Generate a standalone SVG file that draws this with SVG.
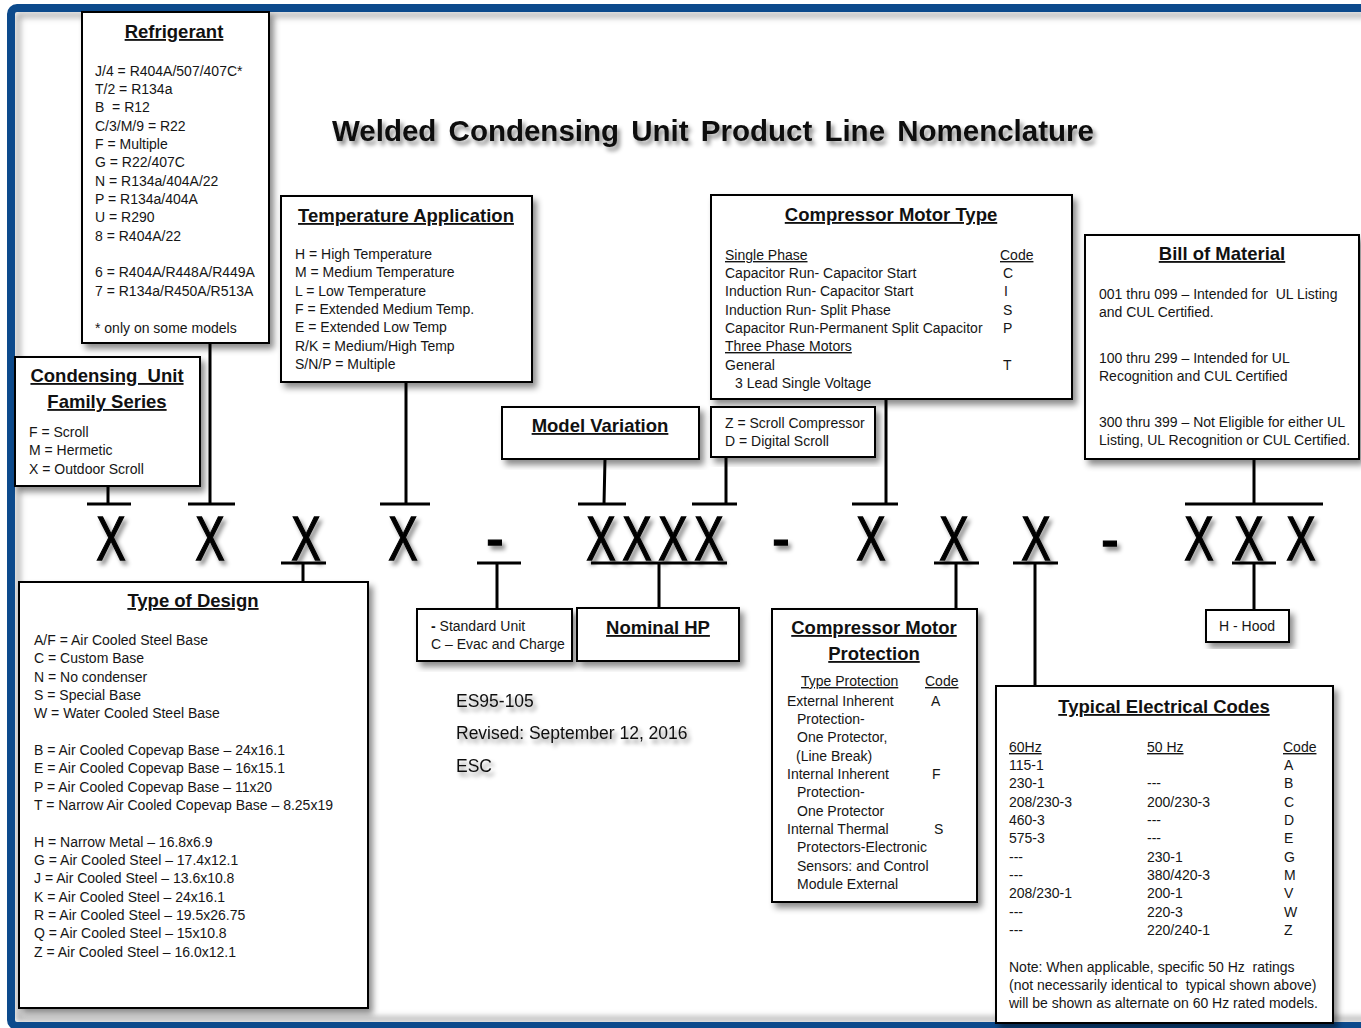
<svg xmlns="http://www.w3.org/2000/svg" width="1361" height="1028" viewBox="0 0 1361 1028">
<defs>
<filter id="sh" x="-10%" y="-10%" width="130%" height="130%">
<feDropShadow dx="4" dy="5" stdDeviation="3" flood-color="#000" flood-opacity="0.45"/>
</filter>
<filter id="tsh" x="-30%" y="-30%" width="170%" height="170%">
<feDropShadow dx="3" dy="4" stdDeviation="2.2" flood-color="#000" flood-opacity="0.45"/>
</filter>
<filter id="blur" x="-5%" y="-5%" width="110%" height="110%">
<feGaussianBlur stdDeviation="3"/>
</filter>
<style>
.box{fill:#fff;stroke:#000;stroke-width:2}
.t{font-family:"Liberation Sans",Arial,sans-serif;font-size:14px;fill:#151515;white-space:pre}
.h{font-family:"Liberation Sans",Arial,sans-serif;font-size:18.5px;font-weight:bold;text-decoration:underline;text-anchor:middle;fill:#111;white-space:pre}
.u{text-decoration:underline}
.big{font-family:"Liberation Sans",Arial,sans-serif;font-size:63px;text-anchor:middle;fill:#000;stroke:#000;stroke-width:1.3}
.c{stroke:#000;stroke-width:3;fill:none}
.es{font-family:"Liberation Sans",Arial,sans-serif;font-size:17.5px;fill:#111}
</style>
</defs>
<rect x="0" y="0" width="1361" height="1028" fill="#fff"/>
<rect x="18" y="15" width="1400" height="1004" fill="none" stroke="#9a9a9a" stroke-width="4" filter="url(#blur)"/>
<rect x="11" y="8" width="1400" height="1018" rx="6" fill="none" stroke="#0c4a8c" stroke-width="8"/>

<text class="h" x="713" y="141" style="font-size:29.5px;text-decoration:none;word-spacing:4px" filter="url(#tsh)">Welded Condensing Unit Product Line Nomenclature</text>

<g id="connectors">
<path class="c" d="M108 486V504M87 504H131"/>
<path class="c" d="M210 343V504M188 504H235"/>
<path class="c" d="M406 382V504M380 504H430"/>
<path class="c" d="M605 459L604 504M578 504H626"/>
<path class="c" d="M726 457V504M692 504H737"/>
<path class="c" d="M886 399V504M852 504H898"/>
<path class="c" d="M1254 459V504M1185 504H1323"/>
<path class="c" d="M303 582V563M281 563H326"/>
<path class="c" d="M497 609V563M477 563H521"/>
<path class="c" d="M659 608V563M591 563H727"/>
<path class="c" d="M956 609V563M934 563H979"/>
<path class="c" d="M1035 686V563M1013 563H1058"/>
<path class="c" d="M1254 610V563M1232 563H1276"/>
</g>

<g id="code" filter="url(#tsh)">
<text class="big" transform="translate(111,560) scale(0.7,1)">X</text>
<text class="big" transform="translate(210,560) scale(0.7,1)">X</text>
<text class="big" transform="translate(306,560) scale(0.7,1)">X</text>
<text class="big" transform="translate(403,560) scale(0.7,1)">X</text>
<text class="big" transform="translate(495,559) scale(0.85,1)">-</text>
<text class="big" transform="translate(601,560) scale(0.7,1)">X</text>
<text class="big" transform="translate(637,560) scale(0.7,1)">X</text>
<text class="big" transform="translate(673,560) scale(0.7,1)">X</text>
<text class="big" transform="translate(709,560) scale(0.7,1)">X</text>
<text class="big" transform="translate(781,559) scale(0.85,1)">-</text>
<text class="big" transform="translate(871,560) scale(0.7,1)">X</text>
<text class="big" transform="translate(954,560) scale(0.7,1)">X</text>
<text class="big" transform="translate(1036,560) scale(0.7,1)">X</text>
<text class="big" transform="translate(1110,560) scale(0.85,1)">-</text>
<text class="big" transform="translate(1199,560) scale(0.7,1)">X</text>
<text class="big" transform="translate(1249,560) scale(0.7,1)">X</text>
<text class="big" transform="translate(1301,560) scale(0.7,1)">X</text>
</g>

<g id="refrigerant">
<rect class="box" x="82" y="12" width="187" height="331" filter="url(#sh)"/>
<text class="h" x="174" y="38">Refrigerant</text>
<text class="t" x="95" y="76">J/4 = R404A/507/407C*</text>
<text class="t" x="95" y="94">T/2 = R134a</text>
<text class="t" x="95" y="112">B  = R12</text>
<text class="t" x="95" y="131">C/3/M/9 = R22</text>
<text class="t" x="95" y="149">F = Multiple</text>
<text class="t" x="95" y="167">G = R22/407C</text>
<text class="t" x="95" y="186">N = R134a/404A/22</text>
<text class="t" x="95" y="204">P = R134a/404A</text>
<text class="t" x="95" y="222">U = R290</text>
<text class="t" x="95" y="241">8 = R404A/22</text>
<text class="t" x="95" y="277">6 = R404A/R448A/R449A</text>
<text class="t" x="95" y="296">7 = R134a/R450A/R513A</text>
<text class="t" x="95" y="333">* only on some models</text>
</g>

<g id="temperature-application">
<rect class="box" x="281" y="196" width="251" height="186" filter="url(#sh)"/>
<text class="h" x="406" y="222">Temperature Application</text>
<text class="t" x="295" y="259">H = High Temperature</text>
<text class="t" x="295" y="277">M = Medium Temperature</text>
<text class="t" x="295" y="296">L = Low Temperature</text>
<text class="t" x="295" y="314">F = Extended Medium Temp.</text>
<text class="t" x="295" y="332">E = Extended Low Temp</text>
<text class="t" x="295" y="351">R/K = Medium/High Temp</text>
<text class="t" x="295" y="369">S/N/P = Multiple</text>
</g>

<g id="family-series">
<rect class="box" x="15" y="357" width="185" height="129" filter="url(#sh)"/>
<text class="h" x="107" y="382">Condensing  Unit</text>
<text class="h" x="107" y="408">Family Series</text>
<text class="t" x="29" y="437">F = Scroll</text>
<text class="t" x="29" y="455">M = Hermetic</text>
<text class="t" x="29" y="474">X = Outdoor Scroll</text>
</g>

<g id="compressor-motor-type">
<rect class="box" x="711" y="195" width="361" height="204" filter="url(#sh)"/>
<text class="h" x="891" y="221">Compressor Motor Type</text>
<text class="t u" x="725" y="260">Single Phase</text>
<text class="t u" x="1000" y="260">Code</text>
<text class="t" x="725" y="278">Capacitor Run- Capacitor Start</text>
<text class="t" x="1003" y="278">C</text>
<text class="t" x="725" y="296">Induction Run- Capacitor Start</text>
<text class="t" x="1004" y="296">I</text>
<text class="t" x="725" y="315">Induction Run- Split Phase</text>
<text class="t" x="1003" y="315">S</text>
<text class="t" x="725" y="333">Capacitor Run-Permanent Split Capacitor</text>
<text class="t" x="1003" y="333">P</text>
<text class="t u" x="725" y="351">Three Phase Motors</text>
<text class="t" x="725" y="370">General</text>
<text class="t" x="1003" y="370">T</text>
<text class="t" x="735" y="388">3 Lead Single Voltage</text>
</g>

<g id="bill-of-material">
<rect class="box" x="1085" y="235" width="274" height="224" filter="url(#sh)"/>
<text class="h" x="1222" y="260">Bill of Material</text>
<text class="t" x="1099" y="299">001 thru 099 – Intended for  UL Listing</text>
<text class="t" x="1099" y="317">and CUL Certified.</text>
<text class="t" x="1099" y="363">100 thru 299 – Intended for UL</text>
<text class="t" x="1099" y="381">Recognition and CUL Certified</text>
<text class="t" x="1099" y="427">300 thru 399 – Not Eligible for either UL</text>
<text class="t" x="1099" y="445">Listing, UL Recognition or CUL Certified.</text>
</g>

<g id="model-variation">
<rect class="box" x="502" y="407" width="197" height="52" filter="url(#sh)"/>
<text class="h" x="600" y="432">Model Variation</text>
</g>

<g id="compressor-kind">
<rect class="box" x="711" y="407" width="164" height="50" filter="url(#sh)"/>
<text class="t" x="725" y="428">Z = Scroll Compressor</text>
<text class="t" x="725" y="446">D = Digital Scroll</text>
</g>

<g id="type-of-design">
<rect class="box" x="19" y="582" width="349" height="426" filter="url(#sh)"/>
<text class="h" x="193" y="607">Type of Design</text>
<text class="t" x="34" y="645">A/F = Air Cooled Steel Base</text>
<text class="t" x="34" y="663">C = Custom Base</text>
<text class="t" x="34" y="682">N = No condenser</text>
<text class="t" x="34" y="700">S = Special Base</text>
<text class="t" x="34" y="718">W = Water Cooled Steel Base</text>
<text class="t" x="34" y="755">B = Air Cooled Copevap Base – 24x16.1</text>
<text class="t" x="34" y="773">E = Air Cooled Copevap Base – 16x15.1</text>
<text class="t" x="34" y="792">P = Air Cooled Copevap Base – 11x20</text>
<text class="t" x="34" y="810">T = Narrow Air Cooled Copevap Base – 8.25x19</text>
<text class="t" x="34" y="847">H = Narrow Metal – 16.8x6.9</text>
<text class="t" x="34" y="865">G = Air Cooled Steel – 17.4x12.1</text>
<text class="t" x="34" y="883">J = Air Cooled Steel – 13.6x10.8</text>
<text class="t" x="34" y="902">K = Air Cooled Steel – 24x16.1</text>
<text class="t" x="34" y="920">R = Air Cooled Steel – 19.5x26.75</text>
<text class="t" x="34" y="938">Q = Air Cooled Steel – 15x10.8</text>
<text class="t" x="34" y="957">Z = Air Cooled Steel – 16.0x12.1</text>
</g>

<g id="unit-option">
<rect class="box" x="417" y="609" width="155" height="52" filter="url(#sh)"/>
<text class="t" x="431" y="631"><tspan font-weight="bold">-</tspan> Standard Unit</text>
<text class="t" x="431" y="649">C – Evac and Charge</text>
</g>

<g id="nominal-hp">
<rect class="box" x="577" y="608" width="162" height="53" filter="url(#sh)"/>
<text class="h" x="658" y="634">Nominal HP</text>
</g>

<g id="motor-protection">
<rect class="box" x="772" y="609" width="205" height="293" filter="url(#sh)"/>
<text class="h" x="874" y="634">Compressor Motor</text>
<text class="h" x="874" y="660">Protection</text>
<text class="t u" x="801" y="686">Type Protection</text>
<text class="t u" x="925" y="686">Code</text>
<text class="t" x="787" y="706">External Inherent</text>
<text class="t" x="931" y="706">A</text>
<text class="t" x="797" y="724">Protection-</text>
<text class="t" x="797" y="742">One Protector,</text>
<text class="t" x="796" y="761">(Line Break)</text>
<text class="t" x="787" y="779">Internal Inherent</text>
<text class="t" x="932" y="779">F</text>
<text class="t" x="797" y="797">Protection-</text>
<text class="t" x="797" y="816">One Protector</text>
<text class="t" x="787" y="834">Internal Thermal</text>
<text class="t" x="934" y="834">S</text>
<text class="t" x="797" y="852">Protectors-Electronic</text>
<text class="t" x="797" y="871">Sensors: and Control</text>
<text class="t" x="797" y="889">Module External</text>
</g>

<g id="electrical-codes">
<rect class="box" x="996" y="686" width="337" height="337" filter="url(#sh)"/>
<text class="h" x="1164" y="713">Typical Electrical Codes</text>
<text class="t u" x="1009" y="752">60Hz</text>
<text class="t u" x="1147" y="752">50 Hz</text>
<text class="t u" x="1283" y="752">Code</text>
<text class="t" x="1009" y="770">115-1</text><text class="t" x="1284" y="770">A</text>
<text class="t" x="1009" y="788">230-1</text><text class="t" x="1147" y="788">---</text><text class="t" x="1284" y="788">B</text>
<text class="t" x="1009" y="807">208/230-3</text><text class="t" x="1147" y="807">200/230-3</text><text class="t" x="1284" y="807">C</text>
<text class="t" x="1009" y="825">460-3</text><text class="t" x="1147" y="825">---</text><text class="t" x="1284" y="825">D</text>
<text class="t" x="1009" y="843">575-3</text><text class="t" x="1147" y="843">---</text><text class="t" x="1284" y="843">E</text>
<text class="t" x="1009" y="862">---</text><text class="t" x="1147" y="862">230-1</text><text class="t" x="1284" y="862">G</text>
<text class="t" x="1009" y="880">---</text><text class="t" x="1147" y="880">380/420-3</text><text class="t" x="1284" y="880">M</text>
<text class="t" x="1009" y="898">208/230-1</text><text class="t" x="1147" y="898">200-1</text><text class="t" x="1284" y="898">V</text>
<text class="t" x="1009" y="917">---</text><text class="t" x="1147" y="917">220-3</text><text class="t" x="1284" y="917">W</text>
<text class="t" x="1009" y="935">---</text><text class="t" x="1147" y="935">220/240-1</text><text class="t" x="1284" y="935">Z</text>
<text class="t" x="1009" y="972">Note: When applicable, specific 50 Hz  ratings</text>
<text class="t" x="1009" y="990">(not necessarily identical to  typical shown above)</text>
<text class="t" x="1009" y="1008">will be shown as alternate on 60 Hz rated models.</text>
</g>

<g id="hood">
<rect class="box" x="1206" y="610" width="83" height="32" filter="url(#sh)"/>
<text class="t" x="1247" y="631" text-anchor="middle">H - Hood</text>
</g>

<g id="revision" filter="url(#tsh)">
<text class="es" x="456" y="707">ES95-105</text>
<text class="es" x="456" y="739">Revised: September 12, 2016</text>
<text class="es" x="456" y="772">ESC</text>
</g>
</svg>
